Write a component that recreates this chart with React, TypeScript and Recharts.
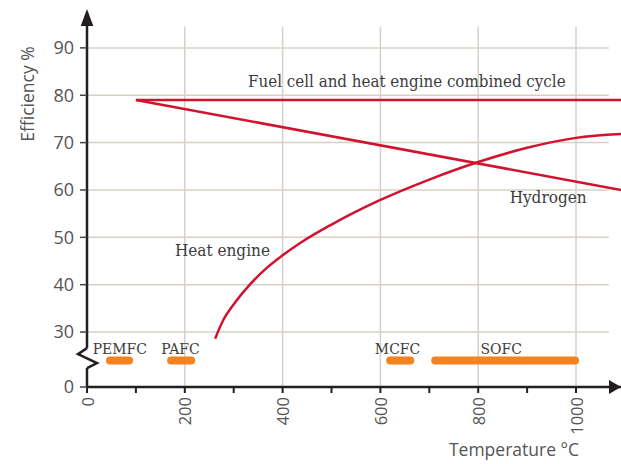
import { Label, Line, LineChart, ReferenceDot, ReferenceLine, XAxis, YAxis } from 'recharts';

const X_MAX = 1092;
const Y_BOTTOM = 18.4; // value where the "0" tick sits below the axis break
const Y_TOP = 98;

const combinedCycle = [
  { x: 100, y: 79 },
  { x: 1092, y: 79 },
];
const hydrogen = [
  { x: 100, y: 79 },
  { x: 1092, y: 60 },
];
const heatEngine = [
  { x: 262, y: 28.6 },
  { x: 279, y: 32.6 },
  { x: 299, y: 35.7 },
  { x: 333, y: 40.0 },
  { x: 367, y: 43.5 },
  { x: 400, y: 46.2 },
  { x: 436, y: 48.8 },
  { x: 500, y: 52.7 },
  { x: 600, y: 57.9 },
  { x: 700, y: 62.2 },
  { x: 800, y: 65.9 },
  { x: 900, y: 68.9 },
  { x: 1000, y: 71.0 },
  { x: 1092, y: 71.8 },
];
const pemfc = [
  { x: 47, y: 24 },
  { x: 86, y: 24 },
];
const pafc = [
  { x: 172, y: 24 },
  { x: 213, y: 24 },
];
const mcfc = [
  { x: 620, y: 24 },
  { x: 661, y: 24 },
];
const sofc = [
  { x: 712, y: 24 },
  { x: 998, y: 24 },
];

const xTicks = [0, 100, 200, 300, 400, 500, 600, 700, 800, 900, 1000];
const xGrid = [200, 400, 600, 800, 1000];
const yTicks = [Y_BOTTOM, 30, 40, 50, 60, 70, 80, 90];
const yGrid = [30, 40, 50, 60, 70, 80, 90];

const RED = '#d2132e';
const ORANGE = '#f4821f';
const GRID = '#d6d0c9';
const AXIS = '#231f20';
const SANS = '"Open Sans", sans-serif';
const SERIF = '"DejaVu Serif Condensed", "DejaVu Serif", serif';

function XTick({ x, y, payload }: any) {
  if (payload.value % 200 !== 0) return null;
  return (
    <text
      x={x}
      y={y}
      transform={`rotate(-90 ${x} ${y})`}
      textAnchor="end"
      dominantBaseline="central"
      fill="#555"
      fontSize={16.5}
      fontFamily={SANS}
    >
      {payload.value}
    </text>
  );
}

const note =
  (text: string, size: number) =>
  ({ cx, cy }: any) => (
    <text x={cx} y={cy} textAnchor="middle" fill="#3c3c3c" fontSize={size} fontFamily={SERIF}>
      {text}
    </text>
  );

const yArrow = ({ cx, cy }: any) => (
  <polygon points={`${cx},${cy - 1} ${cx - 6.3},${cy + 16} ${cx + 6.3},${cy + 16}`} fill={AXIS} />
);
const xArrow = ({ cx, cy }: any) => (
  <polygon points={`${cx},${cy} ${cx - 12},${cy - 7} ${cx - 12},${cy + 7}`} fill={AXIS} />
);
const zigzag = ({ cx, cy }: any) => (
  <polyline
    points={`${cx},${cy - 10} ${cx - 9},${cy - 4} ${cx + 10},${cy + 5} ${cx},${cy + 10}`}
    fill="none"
    stroke={AXIS}
    strokeWidth={2.5}
  />
);

export default function App() {
  return (
    <div style={{ position: 'absolute', left: 0, top: 0, background: '#fff' }}>
      <LineChart width={621} height={464} margin={{ top: 10, right: 0, bottom: 0, left: 0 }}>
        <XAxis
          type="number"
          dataKey="x"
          domain={[0, X_MAX]}
          ticks={xTicks}
          interval={0}
          height={77}
          tickSize={6}
          tickMargin={4}
          axisLine={{ stroke: AXIS, strokeWidth: 2.5 }}
          tickLine={{ stroke: AXIS, strokeWidth: 2 }}
          tick={<XTick />}
        >
          <Label
            content={() => (
              <text x={514} y={456} textAnchor="middle" fill="#555" fontSize={17.5} fontFamily={SANS}>
                Temperature °C
              </text>
            )}
          />
        </XAxis>
        <YAxis
          type="number"
          dataKey="y"
          domain={[Y_BOTTOM, Y_TOP]}
          ticks={yTicks}
          interval={0}
          width={87}
          tickSize={7}
          tickMargin={6}
          axisLine={false}
          tickLine={{ stroke: '#444', strokeWidth: 1.5 }}
          tick={{ fill: '#555', fontSize: 18, fontFamily: SANS }}
          tickFormatter={(v: number) => (v < 20 ? '0' : String(v))}
        >
          <Label
            content={() => (
              <text
                x={34}
                y={94}
                transform="rotate(-90 34 94)"
                textAnchor="middle"
                fill="#555"
                fontSize={17.5}
                fontFamily={SANS}
              >
                Efficiency %
              </text>
            )}
          />
        </YAxis>

        {yGrid.map((v) => (
          <ReferenceLine
            key={`h${v}`}
            segment={[
              { x: 0, y: v },
              { x: 1067, y: v },
            ]}
            stroke={GRID}
            strokeWidth={1.5}
            zIndex={-100}
          />
        ))}
        {xGrid.map((v) => (
          <ReferenceLine
            key={`v${v}`}
            segment={[
              { x: v, y: Y_BOTTOM },
              { x: v, y: 94.5 },
            ]}
            stroke={GRID}
            strokeWidth={1.5}
            zIndex={-100}
          />
        ))}

        <ReferenceLine
          segment={[
            { x: 0, y: Y_BOTTOM },
            { x: 0, y: 22.4 },
          ]}
          stroke={AXIS}
          strokeWidth={2.5}
        />
        <ReferenceLine
          segment={[
            { x: 0, y: 26.6 },
            { x: 0, y: 96.5 },
          ]}
          stroke={AXIS}
          strokeWidth={2.5}
        />
        <ReferenceDot x={0} y={24.5} r={0} shape={zigzag} ifOverflow="visible" />
        <ReferenceDot x={0} y={Y_TOP} r={0} shape={yArrow} ifOverflow="visible" />
        <ReferenceDot x={X_MAX} y={Y_BOTTOM} r={0} shape={xArrow} ifOverflow="visible" />

        <Line data={combinedCycle} dataKey="y" stroke={RED} strokeWidth={2.5} dot={false} isAnimationActive={false} />
        <Line data={hydrogen} dataKey="y" stroke={RED} strokeWidth={2.5} dot={false} isAnimationActive={false} />
        <Line
          data={heatEngine}
          dataKey="y"
          type="monotone"
          stroke={RED}
          strokeWidth={2.5}
          dot={false}
          isAnimationActive={false}
        />
        {[pemfc, pafc, mcfc, sofc].map((d, i) => (
          <Line
            key={i}
            data={d}
            dataKey="y"
            stroke={ORANGE}
            strokeWidth={8}
            strokeLinecap="round"
            dot={false}
            isAnimationActive={false}
          />
        ))}

        <ReferenceDot x={654} y={81.8} r={0} shape={note('Fuel cell and heat engine combined cycle', 16.8)} />
        <ReferenceDot x={943} y={57.3} r={0} shape={note('Hydrogen', 17)} />
        <ReferenceDot x={277} y={46.1} r={0} shape={note('Heat engine', 17)} />
        <ReferenceDot x={67} y={25.4} r={0} shape={note('PEMFC', 15.5)} />
        <ReferenceDot x={191} y={25.4} r={0} shape={note('PAFC', 15.5)} />
        <ReferenceDot x={635} y={25.4} r={0} shape={note('MCFC', 15.5)} />
        <ReferenceDot x={847} y={25.4} r={0} shape={note('SOFC', 15.5)} />
      </LineChart>
    </div>
  );
}
